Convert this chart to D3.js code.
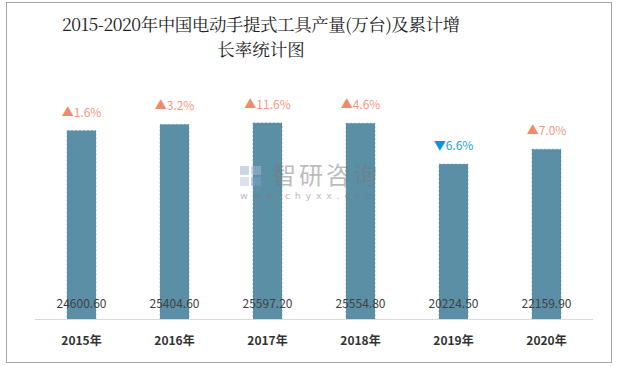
<!DOCTYPE html>
<html><head><meta charset="utf-8">
<script src="https://cdn.jsdelivr.net/npm/d3@7/dist/d3.min.js"></script>
<style>body{margin:0;background:#fff;}svg{display:block;}</style>
</head><body>
<svg id="chart" width="620" height="366"></svg>
<script>
const categories = ["2015年","2016年","2017年","2018年","2019年","2020年"];
const output = [24600.60, 25404.60, 25597.20, 25554.80, 20224.50, 22159.90];
const growth = [1.6, 3.2, 11.6, 4.6, -6.6, 7.0];
const titleLines = ["2015-2020年中国电动手提式工具产量(万台)及累计增", "长率统计图"];

const svg = d3.select("#chart");
svg.append("rect").attr("x",6.5).attr("y",2.5).attr("width",605).attr("height",360)
  .attr("fill","#fff").attr("stroke","#a6a6a6").attr("stroke-width",1);

const x = d3.scaleBand().domain(categories).range([35,593]).paddingInner(0.688).paddingOuter(0.344);
const y = d3.scaleLinear().domain([0,30000]).range([319,89.2]);

const cjk = "'Noto Sans CJK SC','Microsoft YaHei',sans-serif";

// title
svg.append("g").selectAll("text").data(titleLines).join("text")
  .attr("x",261).attr("y",(d,i)=>31+i*25)
  .attr("text-anchor","middle")
  .attr("font-family","'Noto Serif CJK SC','Liberation Serif',serif")
  .attr("font-size",17.5).attr("fill","#222")
  .attr("textLength",(d,i)=>i===0?398:null)
  .text(d=>d);

// bars
svg.append("g").selectAll("rect").data(output).join("rect")
  .attr("x",(d,i)=>x(categories[i]))
  .attr("y",d=>y(d))
  .attr("width",x.bandwidth())
  .attr("height",d=>y(0)-y(d))
  .attr("fill","#5b8fa6")
  .attr("stroke","#52869d").attr("stroke-width",0.5).attr("stroke-dasharray","2,2");

// watermark
const wm = svg.append("g").attr("opacity",0.5);
wm.append("rect").attr("x",240).attr("y",166).attr("width",9).attr("height",9).attr("fill","#9aaecb");
wm.append("rect").attr("x",251).attr("y",166).attr("width",10).attr("height",9).attr("fill","#aab9d2");
wm.append("rect").attr("x",240).attr("y",177).attr("width",9).attr("height",9).attr("fill","#b9c7dc");
wm.append("rect").attr("x",251).attr("y",177).attr("width",10).attr("height",9).attr("fill","#7fa0c8");
wm.append("text").attr("x",272).attr("y",184).attr("font-family",cjk).attr("font-size",24)
  .attr("fill","#7a7a7a").attr("letter-spacing",3).text("智研咨询");
wm.append("text").attr("x",240).attr("y",199).attr("font-family","'DejaVu Sans',sans-serif").attr("font-size",9.5)
  .attr("fill","#7a7a7a").attr("letter-spacing",4.8).text("www.chyxx.com");

// axis line
svg.append("line").attr("x1",35).attr("x2",593).attr("y1",319.5).attr("y2",319.5)
  .attr("stroke","#d9d9d9").attr("stroke-width",1);

// value labels
svg.append("g").selectAll("text").data(output).join("text")
  .attr("x",(d,i)=>x(categories[i])+x.bandwidth()/2)
  .attr("y",308)
  .attr("text-anchor","middle")
  .attr("font-family",cjk).attr("font-size",12).attr("fill","#404040")
  .text(d=>d.toFixed(2));

// category labels
svg.append("g").selectAll("text").data(categories).join("text")
  .attr("x",d=>x(d)+x.bandwidth()/2)
  .attr("y",345)
  .attr("text-anchor","middle")
  .attr("font-family",cjk).attr("font-size",12).attr("font-weight","bold").attr("fill","#333")
  .text(d=>d);

// growth labels
const gl = svg.append("g").selectAll("text").data(growth).join("text")
  .attr("x",(d,i)=>x(categories[i])+x.bandwidth()/2)
  .attr("y",(d,i)=>y(output[i])-14)
  .attr("text-anchor","middle")
  .attr("font-family",cjk).attr("font-size",12);
gl.append("tspan").attr("fill",d=>d>=0?"#f08a6c":"#0a96d2").text(d=>d>=0?"▲":"▼");
gl.append("tspan").attr("fill",d=>d>=0?"#f29a80":"#2a9fd0").text(d=>Math.abs(d).toFixed(1)+"%");
</script>
</body></html>
